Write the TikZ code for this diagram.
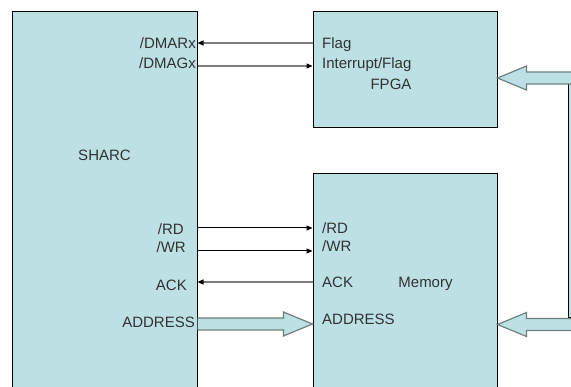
\documentclass[tikz,border=0pt]{standalone}
\usepackage{fontspec}
\setmainfont{Liberation Sans}
\usetikzlibrary{arrows.meta,calc}
\definecolor{boxfill}{RGB}{188,224,227}
\definecolor{txt}{RGB}{50,50,50}
\definecolor{arrowgray}{RGB}{112,128,128}
\definecolor{linegray}{RGB}{125,125,125}
\newcommand\widearrow[3]{%
 \fill[boxfill] ($(#1)+(0,6)$) -- ($(#2)+(-29*#3,6)$) -- ($(#2)+(-29*#3,12)$) -- (#2) -- ($(#2)+(-29*#3,-12)$) -- ($(#2)+(-29*#3,-6)$) -- ($(#1)+(0,-6)$) -- cycle;
 \draw[fatline] ($(#1)+(0,6)$) -- ($(#2)+(-29*#3,6)$) -- ($(#2)+(-29*#3,12)$) -- (#2) -- ($(#2)+(-29*#3,-12)$) -- ($(#2)+(-29*#3,-6)$) -- ($(#1)+(0,-6)$);}
\begin{document}
\begin{tikzpicture}[x=1pt,y=-1pt,
  font=\fontsize{15}{17}\selectfont,
  blockbox/.style={draw=black, line width=1pt, fill=boxfill, inner sep=0pt},
  lbl/.style={text=txt, inner sep=0pt, text height=10.7pt, text depth=0pt},
  sigblack/.style={draw=black, line width=1pt, -{Triangle[length=6pt,width=5pt,color=black]}},
  siggray/.style={draw=linegray, line width=1.2pt, -{Triangle[length=6pt,width=5pt,color=black]}},
  fatline/.style={draw=arrowgray, line width=1.2pt, line join=miter}]
\useasboundingbox (0,0) rectangle (571,387);
\clip (0,0) rectangle (571,387);
\fill[white] (0,0) rectangle (571,387);
% blocks
\node[blockbox, minimum width=185pt, minimum height=390pt] (sharc) at (104.5,207) {};
\node[blockbox, minimum width=184pt, minimum height=116pt] (fpga) at (405,70) {};
\node[blockbox, minimum width=184pt, minimum height=230pt] (mem) at (405,289) {};
\node[blockbox, minimum width=30pt, minimum height=234pt] (ext) at (583,201) {};
% SHARC labels
\node[lbl] (tsharc) at (104.5,155) {SHARC};
\node[lbl, anchor=east] (sdmar) at (196,43) {/DMARx};
\node[lbl, anchor=east] (sdmag) at (196,63) {/DMAGx};
\node[lbl, anchor=east] (srd) at (184,229) {/RD};
\node[lbl, anchor=east] (swr) at (186,247) {/WR};
\node[lbl, anchor=east] (sack) at (187,285) {ACK};
\node[lbl, anchor=east] (saddr) at (195,322) {ADDRESS};
% FPGA labels
\node[lbl, anchor=west] (fflag) at (322,43) {Flag};
\node[lbl, anchor=west] (fint) at (322,63) {Interrupt/Flag};
\node[lbl] (tfpga) at (391,84) {FPGA};
% Memory labels
\node[lbl, anchor=west] (mrd) at (322,228) {/RD};
\node[lbl, anchor=west] (mwr) at (322,246) {/WR};
\node[lbl, anchor=west] (mack) at (322,282) {ACK};
\node[lbl] (tmem) at (425.5,282) {Memory};
\node[lbl, anchor=west] (maddr) at (322,319) {ADDRESS};
% signal rows
\coordinate (ydmar) at (0,43);
\coordinate (ydmag) at (0,66);
\coordinate (yrd) at (0,228);
\coordinate (ywr) at (0,251);
\coordinate (yack) at (0,282);
\coordinate (yaddr) at (0,324);
\coordinate (yfa) at (0,78);
\coordinate (yma) at (0,324.5);
% thin connectors
\draw[siggray] (fpga.west |- ydmar) -- (sharc.east |- ydmar);
\draw[siggray] (sharc.east |- ydmag) -- (fpga.west |- ydmag);
\draw[sigblack] (sharc.east |- yrd) -- (mem.west |- yrd);
\draw[sigblack] (sharc.east |- ywr) -- (mem.west |- ywr);
\draw[siggray] (mem.west |- yack) -- (sharc.east |- yack);
% wide bus arrows
\coordinate (busa) at (sharc.east |- yaddr);
\coordinate (busb) at (mem.west |- yaddr);
\widearrow{busa}{busb}{1}
\coordinate (fin) at (600,78);
\coordinate (fout) at (fpga.east |- yfa);
\widearrow{fin}{fout}{-1}
\coordinate (min) at (600,324.5);
\coordinate (mout) at (mem.east |- yma);
\widearrow{min}{mout}{-1}
\end{tikzpicture}
\end{document}
